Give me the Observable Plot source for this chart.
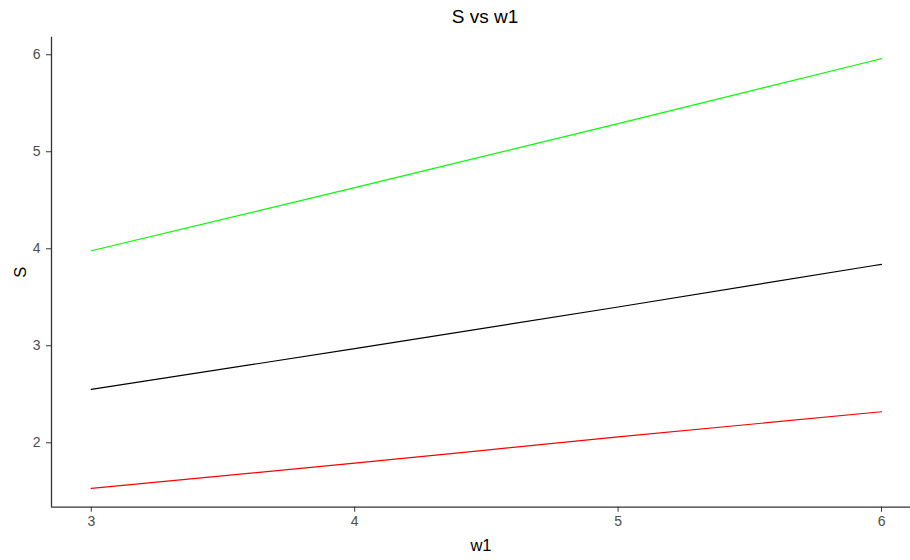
<!DOCTYPE html>
<html>
<head>
<meta charset="utf-8">
<script src="https://cdn.jsdelivr.net/npm/d3@7"></script>
<script src="https://cdn.jsdelivr.net/npm/@observablehq/plot@0.6"></script>
<style>
  html, body { margin: 0; padding: 0; background: #fff; overflow: hidden; }
  #title { width: 910px; height: 30px; box-sizing: border-box; padding-left: 60px; text-align: center;
    font-family: "Liberation Sans", Arial, sans-serif; font-size: 19px; line-height: 34px; color: #000; }
</style>
</head>
<body>
<div id="title">S vs w1</div>
<div id="chart"></div>
<script>
const w1 = [3, 4, 5, 6];
const seriesNames = ["upper", "middle", "lower"];
const upperS = [3.98, 4.63, 5.29, 5.96];
const middleS = [2.55, 2.97, 3.40, 3.84];
const lowerS = [1.53, 1.79, 2.06, 2.32];
const xTicks = [3, 4, 5, 6];
const yTicks = [2, 3, 4, 5, 6];

const values = {upper: upperS, middle: middleS, lower: lowerS};
const data = seriesNames.flatMap(s => w1.map((x, i) => ({w1: x, S: values[s][i], series: s})));

const xDomain = [2.849, 6.11];
const yDomain = [1.336, 6.181];

const plot = Plot.plot({
  width: 910,
  height: 530,
  marginLeft: 51,
  marginRight: 0,
  marginTop: 6.7,
  marginBottom: 53.3,
  style: {fontFamily: "'Liberation Sans', Arial, sans-serif", background: "#fff", overflow: "hidden"},
  x: {domain: xDomain},
  y: {domain: yDomain},
  color: {type: "ordinal", domain: seriesNames, range: ["#00ff00", "#000000", "#ff0000"]},
  marks: [
    Plot.line(data, {x: "w1", y: "S", z: "series", stroke: "series", strokeWidth: 1.2, curve: "natural"}),
    Plot.ruleX([xDomain[0]], {stroke: "#333", strokeWidth: 1.3}),
    Plot.ruleY([yDomain[0]], {stroke: "#333", strokeWidth: 1.3}),
    Plot.axisX({ticks: xTicks, tickFormat: d => String(d), tickSize: 5, tickPadding: 4, fontSize: 14, color: "#4d4d4d", stroke: "#333",
      label: "w1", labelAnchor: "center", labelOffset: 44, labelArrow: "none"}),
    Plot.axisY({ticks: yTicks, tickFormat: d => String(d), tickSize: 5, tickPadding: 6, fontSize: 14, color: "#4d4d4d", stroke: "#333",
      label: "S", labelAnchor: "center", labelOffset: 37, labelArrow: "none"})
  ]
});
document.getElementById("chart").appendChild(plot);
plot.querySelectorAll("g[aria-label='x-axis label'] text, g[aria-label='y-axis label'] text").forEach(t => {
  t.setAttribute("font-size", "16.5");
  t.style.fill = "#000";
});
</script>
</body>
</html>
